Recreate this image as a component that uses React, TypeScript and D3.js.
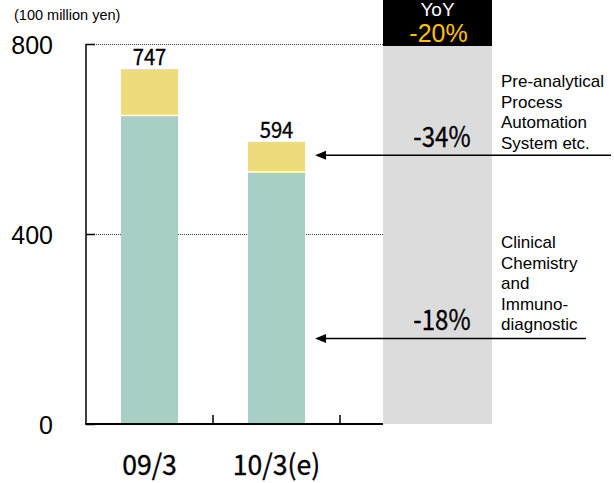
import React from "react";
import * as d3 from "d3";

// Sales by segment (100 million yen)
const categories = ["09/3", "10/3(e)"];
const clinicalValues = [648, 529];
const preAnalyticalValues = [99, 65];
const totals = [747, 594];
const yTicks = [0, 400, 800];
const yoyTotal = "-20%";
const segmentChanges = ["-34%", "-18%"];
const segmentNames = [
  ["Pre-analytical", "Process", "Automation", "System etc."],
  ["Clinical", "Chemistry", "and", "Immuno-", "diagnostic"],
];

const W = 614;
const H = 483;
const TEAL = "#a7cfc6";
const YELLOW = "#eedb7b";
const GRAY = "#dcdcdc";
const NARROW = "'Noto Sans CJK JP', 'DejaVu Sans', sans-serif";
const SANS = "Arial, 'Liberation Sans', sans-serif";

// horizontally condensed text centred on cx
function Narrow({ cx, y, size, sx, children }: { cx: number; y: number; size: number; sx: number; children: React.ReactNode }) {
  return (
    <text x={0} y={y} textAnchor="middle" fontFamily={NARROW} fontSize={size} fill="#000" stroke="#000" strokeWidth={0.35} transform={`translate(${cx},0) scale(${sx},1)`}>
      {children}
    </text>
  );
}

export default function App() {
  const left = 86;
  const y = d3.scaleLinear().domain([0, 800]).range([424, 44]);
  const x = d3.scaleBand<string>().domain(categories).range([left, 340]).padding(0);
  const step = x.step();
  const barW = step * 0.45;
  const panelX0 = 383;
  const panelX1 = 492;
  const base = y(0);

  // arrows point at each segment of the second bar
  const arrowY = [
    y(clinicalValues[1] + preAnalyticalValues[1] / 2) - 2,
    y(clinicalValues[1] * 0.34),
  ];
  const arrowEnd = [611, 586];
  const tipX = x(categories[1])! + step / 2 + barW / 2 + 10;

  return (
    <svg width={W} height={H} style={{ position: "absolute", left: 0, top: 0 }}>
      <rect width={W} height={H} fill="#fff" />

      {/* YoY panel */}
      <rect x={panelX0} y={46} width={panelX1 - panelX0} height={base - 46} fill={GRAY} />
      <rect x={panelX0} y={0} width={panelX1 - panelX0} height={46} fill="#000" />
      <text x={(panelX0 + panelX1) / 2} y={16} textAnchor="middle" fontFamily={SANS} fontSize={19} fill="#fff">YoY</text>
      <text x={(panelX0 + panelX1) / 2 + 1} y={42} textAnchor="middle" fontFamily={SANS} fontSize={25} fill="#ffc000">{yoyTotal}</text>

      {/* unit */}
      <text x={14} y={20} fontFamily={SANS} fontSize={14.5} fill="#000">(100 million yen)</text>

      {/* grid lines */}
      {yTicks.filter((t) => t > 0).map((t) => (
        <line key={t} x1={left} x2={panelX0} y1={y(t) + 0.5} y2={y(t) + 0.5} stroke="#444" strokeWidth={1} strokeDasharray="1,1" />
      ))}

      {/* bars */}
      {categories.map((c, i) => {
        const bx = x(c)! + (step - barW) / 2;
        return (
          <g key={c}>
            <rect x={bx} y={y(clinicalValues[i])} width={barW} height={base - y(clinicalValues[i])} fill={TEAL} />
            <rect x={bx} y={y(totals[i])} width={barW} height={y(clinicalValues[i]) - y(totals[i]) - 1.5} fill={YELLOW} />
            <Narrow cx={bx + barW / 2} y={y(totals[i]) - 4} size={22} sx={0.92}>{totals[i]}</Narrow>
            <Narrow cx={x(c)! + step / 2} y={475} size={28} sx={0.95}>{c}</Narrow>
          </g>
        );
      })}

      {/* axes */}
      <line x1={left} x2={left} y1={y(800)} y2={base} stroke="#000" strokeWidth={1.5} />
      {yTicks.map((t) => (
        <g key={t}>
          <line x1={left} x2={left + 9} y1={y(t) + 0.5} y2={y(t) + 0.5} stroke="#000" strokeWidth={1.5} />
          <text x={53} y={y(t) + 1} textAnchor="end" dominantBaseline="central" fontFamily={SANS} fontSize={25} fill="#000">{t}</text>
        </g>
      ))}
      <line x1={left - 0.75} x2={panelX0} y1={base} y2={base} stroke="#000" strokeWidth={2} />
      {categories.map((c) => (
        <line key={c} x1={x(c)! + step} x2={x(c)! + step} y1={base - 9} y2={base} stroke="#000" strokeWidth={1.5} />
      ))}

      {/* segment change labels and arrows */}
      {segmentChanges.map((s, i) => (
        <g key={s}>
          <Narrow cx={442} y={[147, 330][i]} size={28} sx={0.86}>{s}</Narrow>
          <line x1={arrowEnd[i]} x2={tipX + 8} y1={arrowY[i]} y2={arrowY[i]} stroke="#000" strokeWidth={1.5} />
          <path d={`M${tipX},${arrowY[i]} L${tipX + 11},${arrowY[i] - 4.5} L${tipX + 11},${arrowY[i] + 4.5} Z`} fill="#000" />
          {segmentNames[i].map((n, j) => (
            <text key={j} x={501} y={[87, 248][i] + j * 20.5} fontFamily={SANS} fontSize={17} fill="#000">{n}</text>
          ))}
        </g>
      ))}
    </svg>
  );
}
